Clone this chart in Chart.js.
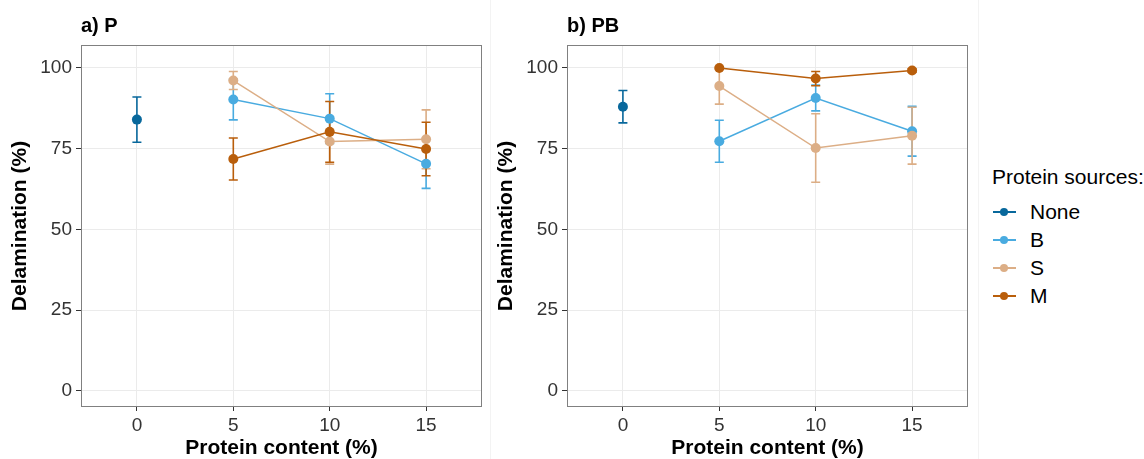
<!DOCTYPE html>
<html>
<head>
<meta charset="utf-8">
<script src="https://cdn.jsdelivr.net/npm/chart.js@4"></script>
<style>
  body { margin: 0; background: #fff; font-family: "Liberation Sans", Arial, sans-serif; }
  #wrap { position: relative; width: 1144px; height: 459px; overflow: hidden; }
  .panel { position: absolute; top: 0; width: 490px; height: 459px; }
  .panel canvas { position: absolute; left: 0; top: 0; }
  .ptitle { position: absolute; top: 15px; font-weight: bold; font-size: 20px; line-height: 20px; color: #000; }
  .sep { position: absolute; top: 0; width: 1px; height: 459px; background: #f3f3f3; }
  #legend { position: absolute; left: 0; top: 0; color: #000; font-size: 21px; }
  #legend .lt, #legend .it { position: absolute; white-space: nowrap; line-height: 24px; height: 24px; }
  #legend .ln { position: absolute; height: 2px; width: 23px; }
  #legend .dt { position: absolute; width: 8px; height: 8px; border-radius: 50%; }
</style>
</head>
<body>
<div id="wrap">
  <div class="panel" style="left:0"><canvas id="chartP" width="490" height="459"></canvas></div>
  <div class="ptitle" style="left:81px">a) P</div>
  <div class="sep" style="left:490px"></div>
  <div class="panel" style="left:486px"><canvas id="chartPB" width="490" height="459"></canvas></div>
  <div class="ptitle" style="left:567px">b) PB</div>
  <div class="sep" style="left:978px"></div>
  <div id="legend"></div>
</div>
<script>
// ---------- DATA ----------
const sources = ["None", "B", "S", "M"];
const colors = ["#08689c", "#49abe0", "#dcae86", "#b95e0b"];
const xNone = [0];
const xProt = [5, 10, 15];
const xTicks = [0, 5, 10, 15];
const yTicks = [0, 25, 50, 75, 100];

// panel a) P : means and error (+/-)
const pNone = [84.0], pNoneErr = [7.0];
const pB = [90.2, 84.3, 70.3], pBErr = [6.3, 7.7, 7.6];
const pS = [96.1, 77.2, 77.9], pSErr = [2.8, 7.0, 9.1];
const pM = [71.8, 80.2, 74.9], pMErr = [6.5, 9.4, 8.3];

// panel b) PB
const pbNone = [88.0], pbNoneErr = [5.0];
const pbB = [77.3, 90.7, 80.4], pbBErr = [6.5, 4.0, 7.7];
const pbS = [94.4, 75.2, 79.0], pbSErr = [5.6, 10.6, 8.8];
const pbM = [100.0, 96.7, 99.2], pbMErr = [0.3, 2.2, 0.5];

// ---------- HELPERS ----------
const FONT = "'Liberation Sans', Arial, sans-serif";

function pts(xs, ys) {
  return xs.map((x, i) => ({ x: x, y: ys[i] }));
}

function makeSet(i, xs, ys, errs) {
  return {
    label: sources[i],
    data: pts(xs, ys),
    errs: errs,
    borderColor: colors[i],
    backgroundColor: colors[i],
    borderWidth: 1.5,
    pointRadius: 5,
    pointHoverRadius: 5,
    pointBorderWidth: 0,
    order: 3 - i
  };
}

// error bars + panel frame
const errorBars = {
  id: "errorBars",
  beforeDatasetsDraw(chart) {
    const ctx = chart.ctx;
    const xs = chart.scales.x, ys = chart.scales.y;
    ctx.save();
    ctx.lineWidth = 1.6;
    chart.data.datasets.forEach(ds => {
      ctx.strokeStyle = ds.borderColor;
      ds.data.forEach((p, k) => {
        const e = ds.errs[k];
        const px = xs.getPixelForValue(p.x);
        const top = ys.getPixelForValue(p.y + e);
        const bot = ys.getPixelForValue(p.y - e);
        ctx.beginPath();
        ctx.moveTo(px, top); ctx.lineTo(px, bot);
        ctx.moveTo(px - 4.5, top); ctx.lineTo(px + 4.5, top);
        ctx.moveTo(px - 4.5, bot); ctx.lineTo(px + 4.5, bot);
        ctx.stroke();
      });
    });
    ctx.restore();
  },
  afterDraw(chart) {
    const a = chart.chartArea, ctx = chart.ctx;
    ctx.save();
    ctx.strokeStyle = "#808080";
    ctx.lineWidth = 1;
    ctx.strokeRect(Math.round(a.left) + 0.5, Math.round(a.top) + 0.5,
      Math.round(a.right - a.left) - 1, Math.round(a.bottom - a.top) - 1);
    ctx.restore();
  }
};

function makeChart(id, sets) {
  return new Chart(document.getElementById(id), {
    type: "line",
    data: { datasets: sets },
    plugins: [errorBars],
    options: {
      responsive: false,
      animation: false,
      events: [],
      layout: { padding: { left: 0, right: 8, top: 45, bottom: 0 } },
      plugins: { legend: { display: false }, tooltip: { enabled: false } },
      scales: {
        x: {
          type: "linear",
          min: -2.9,
          max: 17.9,
          afterBuildTicks: s => { s.ticks = xTicks.map(v => ({ value: v })); },
          afterFit: s => { s.height = 52; },
          grid: { color: "#ebebeb", lineWidth: 1, tickColor: "#333", tickLength: 4 },
          border: { display: false },
          ticks: { color: "#333", font: { family: FONT, size: 19 }, padding: 3 },
          title: {
            display: true, text: "Protein content (%)", color: "#000",
            font: { family: FONT, size: 21, weight: "bold", lineHeight: 1 },
            padding: { top: 0, bottom: 0 }
          }
        },
        y: {
          min: -5,
          max: 107.1,
          afterBuildTicks: s => { s.ticks = yTicks.map(v => ({ value: v })); },
          afterFit: s => { s.width = 81; },
          grid: { color: "#ebebeb", lineWidth: 1, tickColor: "#333", tickLength: 5 },
          border: { display: false },
          ticks: { color: "#333", font: { family: FONT, size: 19 }, padding: 4 },
          title: {
            display: true, text: "Delamination (%)", color: "#000",
            font: { family: FONT, size: 21, weight: "bold", lineHeight: 1 },
            padding: { top: 10, bottom: 0 }
          }
        }
      }
    }
  });
}

makeChart("chartP", [
  makeSet(0, xNone, pNone, pNoneErr),
  makeSet(1, xProt, pB, pBErr),
  makeSet(2, xProt, pS, pSErr),
  makeSet(3, xProt, pM, pMErr)
]);

makeChart("chartPB", [
  makeSet(0, xNone, pbNone, pbNoneErr),
  makeSet(1, xProt, pbB, pbBErr),
  makeSet(2, xProt, pbS, pbSErr),
  makeSet(3, xProt, pbM, pbMErr)
]);

// ---------- LEGEND ----------
const leg = document.getElementById("legend");
let html = '<div class="lt" style="left:992px;top:165px">Protein sources:</div>';
sources.forEach((s, i) => {
  const cy = 212 + i * 28;
  html += `<div class="ln" style="left:993px;top:${cy - 1}px;background:${colors[i]}"></div>` +
    `<div class="dt" style="left:1000px;top:${cy - 4}px;background:${colors[i]}"></div>` +
    `<div class="it" style="left:1030px;top:${cy - 12}px">${s}</div>`;
});
leg.innerHTML = html;
</script>
</body>
</html>
